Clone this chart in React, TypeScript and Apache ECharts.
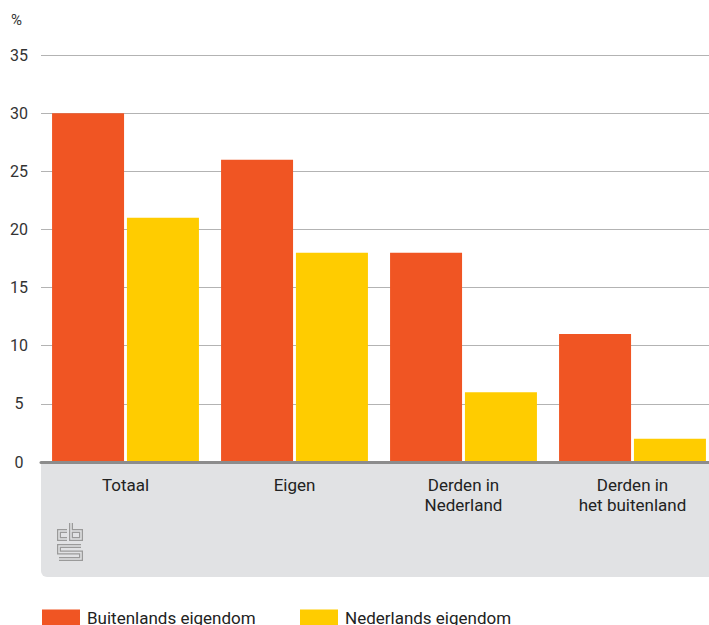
import React, { useEffect, useRef } from "react";
import * as echarts from "echarts";

const categories = ["Totaal", "Eigen", "Derden in\nNederland", "Derden in\nhet buitenland"];
const buitenlands = [30, 26, 18, 11];
const nederlands = [21, 18, 6, 2];
const seriesNames = ["Buitenlands eigendom", "Nederlands eigendom"];
const yTicks = { min: 0, max: 35, interval: 5 };

const FONT = "Roboto, 'Noto Sans', sans-serif";

echarts.graphic.registerShape(
  "cbslogo",
  echarts.graphic.extendPath(
    "M 67 531 L 59 531 L 59 539 L 67 539 M 71 523 L 71 539 L 81 539 L 81 531 L 71 531 M 81 546 L 59 546 L 59 552.5 L 81 552.5 L 81 559 L 59 559",
    {}
  )
);

export default function App() {
  const ref = useRef<HTMLDivElement>(null);
  useEffect(() => {
    const chart = echarts.init(ref.current!, null, { renderer: "svg" });
    const legendText = { fontSize: 17, color: "#222", fontFamily: FONT, padding: [0, 0, 0, 2] };
    chart.setOption({
      animation: false,
      textStyle: { fontFamily: FONT },
      grid: {
        left: 41,
        top: 55,
        width: 676,
        height: 407,
        containLabel: false,
        outerBoundsMode: "none",
      },
      legend: [
        {
          data: [seriesNames[0]],
          left: 42,
          top: 609,
          itemWidth: 38,
          itemHeight: 16,
          icon: "rect",
          selectedMode: false,
          textStyle: legendText,
          padding: 0,
        },
        {
          data: [seriesNames[1]],
          left: 300,
          top: 609,
          itemWidth: 38,
          itemHeight: 16,
          icon: "rect",
          selectedMode: false,
          textStyle: legendText,
          padding: 0,
        },
      ],
      graphic: [
        {
          type: "rect",
          z: -10,
          shape: { x: 41, y: 462, width: 680, height: 115, r: [0, 0, 0, 6] },
          style: { fill: "#e1e2e4" },
        },
        {
          type: "text",
          left: 11,
          top: 12,
          style: { text: "%", fontSize: 15, fill: "#333", fontFamily: FONT },
        },
        {
          type: "cbslogo",
          x: 0,
          y: 0,
          z: 5,
          style: { fill: null, stroke: "#9a9a9a", lineWidth: 4, lineJoin: "miter", lineCap: "butt" },
        },
        {
          type: "cbslogo",
          x: 0,
          y: 0,
          z: 6,
          style: { fill: null, stroke: "#e1e2e4", lineWidth: 1.5, lineJoin: "miter", lineCap: "butt" },
        },
      ],
      xAxis: {
        type: "category",
        data: categories,
        axisTick: { show: false },
        axisLine: { show: true, lineStyle: { color: "#8c8c8c", width: 3 } },
        axisLabel: { fontSize: 17, color: "#222", lineHeight: 20, margin: 13, fontFamily: FONT },
        z: 3,
      },
      yAxis: {
        type: "value",
        min: yTicks.min,
        max: yTicks.max,
        interval: yTicks.interval,
        axisLine: { show: false },
        axisTick: { show: false },
        splitLine: { lineStyle: { color: "#b3b3b3", width: 1 } },
        axisLabel: { fontSize: 16, color: "#333", align: "center", margin: 22, fontFamily: FONT },
      },
      series: [
        {
          name: seriesNames[0],
          type: "bar",
          data: buitenlands,
          barWidth: 72,
          barGap: "4%",
          itemStyle: { color: "#f05523" },
        },
        {
          name: seriesNames[1],
          type: "bar",
          data: nederlands,
          barWidth: 72,
          barGap: "4%",
          itemStyle: { color: "#ffcc00" },
        },
      ],
    });
    return () => chart.dispose();
  }, []);
  return (
    <div
      ref={ref}
      style={{ position: "absolute", left: 0, top: 0, width: 709, height: 625, overflow: "hidden" }}
    />
  );
}
